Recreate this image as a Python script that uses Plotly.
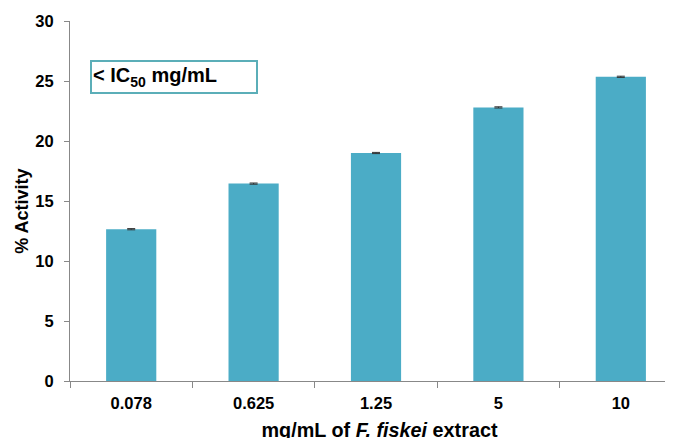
import plotly.graph_objects as go

categories = ["0.078", "0.625", "1.25", "5", "10"]
activity = [12.65, 16.45, 19.0, 22.8, 25.35]
errors = [0.05, 0.05, 0.05, 0.05, 0.05]
y_ticks = [0, 5, 10, 15, 20, 25, 30]

bar_color = "#4BACC6"
font_family = "Liberation Sans, Arial, sans-serif"

# The page body adds an 8px offset; the figure is sized/margined to compensate.
PLOT_W = 619

fig = go.Figure()
fig.add_trace(go.Bar(
    x=categories, y=activity, width=0.41,
    marker=dict(color=bar_color, line=dict(width=0)),
    error_y=dict(type="data", array=errors, visible=True, color="#333333", thickness=1, width=4),
))

fig.update_layout(
    width=681, height=446,
    margin=dict(l=62, r=0, t=13, b=73),
    plot_bgcolor="white", paper_bgcolor="white",
    showlegend=False,
    font=dict(family=font_family, color="black"),
    xaxis=dict(
        type="category", range=[-0.5, 4.557],
        showline=True, linecolor="#888888", linewidth=1,
        ticks="outside", tickson="boundaries", ticklen=6, tickcolor="#888888",
        ticklabelstandoff=7,
        tickfont=dict(size=16.5, family=font_family, color="black", weight="bold"),
        showgrid=False,
        title=dict(text="mg/mL of <i>F. fiskei</i> extract",
                   font=dict(size=19.8, family=font_family, weight="bold"), standoff=12),
    ),
    yaxis=dict(
        range=[0, 30], tickvals=y_ticks,
        showline=True, linecolor="#888888", linewidth=1,
        ticks="outside", ticklen=5, tickcolor="#888888",
        ticklabelstandoff=7,
        tickfont=dict(size=16.5, family=font_family, color="black", weight="bold"),
        showgrid=False, zeroline=False,
    ),
    annotations=[
        dict(
            text="< IC<sub>50</sub> mg/mL", xref="paper", yref="y",
            x=20 / PLOT_W, y=25.35, xanchor="left", yanchor="middle",
            showarrow=False, align="left", width=162, height=28,
            bordercolor="#5BAEB8", borderwidth=2, borderpad=1,
            font=dict(size=20, family=font_family, color="black", weight="bold"),
        ),
        dict(
            text="% Activity", xref="paper", yref="y",
            x=-48 / PLOT_W, y=14.1, xanchor="center", yanchor="middle",
            textangle=-90, showarrow=False,
            font=dict(size=18, family=font_family, color="black", weight="bold"),
        ),
    ],
)

fig.write_html("out.html")
